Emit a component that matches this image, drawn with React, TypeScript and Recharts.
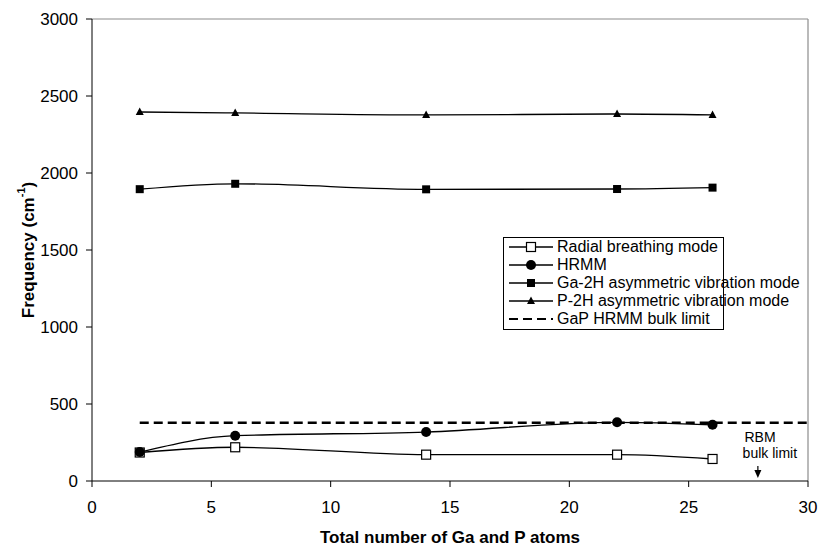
import React from "react";
import {
  LineChart,
  Line,
  XAxis,
  YAxis,
  Legend,
  ReferenceLine,
  ReferenceDot,
} from "recharts";

// atoms count on x, frequencies in cm-1
const atomCounts = [2, 6, 14, 22, 26];
const radialBreathing = [185, 219, 171, 171, 143];
const hrmm = [188, 294, 318, 381, 365];
const ga2h = [1895, 1930, 1894, 1896, 1905];
const p2h = [2396, 2390, 2377, 2383, 2377];

const bulkLimitX = [2, 30];
const bulkLimitValue = 378;

const xTicks = [0, 5, 10, 15, 20, 25, 30];
const yTicks = [0, 500, 1000, 1500, 2000, 2500, 3000];

const seriesNames = [
  "Radial breathing mode",
  "HRMM",
  "Ga-2H asymmetric vibration mode",
  "P-2H asymmetric vibration mode",
  "GaP HRMM bulk limit",
];

const rows = atomCounts.map((x, i) => ({
  x,
  rbm: radialBreathing[i],
  hrmm: hrmm[i],
  ga: ga2h[i],
  p: p2h[i],
}));

const bulkRows = bulkLimitX.map((x) => ({ x, bulk: bulkLimitValue }));

const FONT = '"Liberation Sans", Arial, sans-serif';

type Marker = "openSquare" | "circle" | "square" | "triangle" | "none";
const markers: Marker[] = ["openSquare", "circle", "square", "triangle", "none"];

function drawMarker(kind: Marker, cx: number, cy: number, key?: any) {
  if (kind === "openSquare")
    return <rect key={key} x={cx - 4.5} y={cy - 4.5} width={9} height={9} fill="#fff" stroke="#000" strokeWidth={1.2} />;
  if (kind === "circle") return <circle key={key} cx={cx} cy={cy} r={5} fill="#000" />;
  if (kind === "square") return <rect key={key} x={cx - 4} y={cy - 4} width={8} height={8} fill="#000" />;
  if (kind === "triangle")
    return <path key={key} d={`M${cx},${cy - 4.5} L${cx + 4},${cy + 3} L${cx - 4},${cy + 3} Z`} fill="#000" />;
  return <g key={key} />;
}

const dotFor = (kind: Marker) => (props: any) => drawMarker(kind, props.cx, props.cy, props.key ?? `${kind}-${props.index}`);

function LegendBox() {
  return (
    <div
      style={{
        border: "1px solid #000",
        background: "#fff",
        width: 214,
        padding: "0 0 1px 5px",
        fontFamily: FONT,
        fontSize: 16,
        color: "#000",
      }}
    >
      {seriesNames.map((name, i) => (
        <div key={name} style={{ display: "flex", alignItems: "center", height: 18, whiteSpace: "nowrap" }}>
          <svg width={46} height={18} style={{ flex: "none" }}>
            {markers[i] === "none" ? (
              <line x1={0} y1={9} x2={44} y2={9} stroke="#000" strokeWidth={2.2} strokeDasharray="9 5" />
            ) : (
              <line x1={0} y1={9} x2={44} y2={9} stroke="#000" strokeWidth={1.3} />
            )}
            {drawMarker(markers[i], 22, 9)}
          </svg>
          <span style={{ marginLeft: 2 }}>{name}</span>
        </div>
      ))}
    </div>
  );
}

const YTitle = (props: any) => {
  const vb = props.viewBox;
  const cx = vb.x + 10;
  const cy = vb.y + vb.height / 2;
  return (
    <text
      x={cx}
      y={cy}
      transform={`rotate(-90, ${cx}, ${cy})`}
      textAnchor="middle"
      dominantBaseline="central"
      fontFamily={FONT}
      fontSize={17}
      fontWeight="bold"
      fill="#000"
    >
      Frequency (cm
      <tspan dy={-7} fontSize={11}>
        -1
      </tspan>
      <tspan dy={7}>)</tspan>
    </text>
  );
};

const XTitle = (props: any) => {
  const vb = props.viewBox;
  return (
    <text
      x={vb.x + vb.width / 2}
      y={vb.y + 62}
      textAnchor="middle"
      fontFamily={FONT}
      fontSize={17}
      fontWeight="bold"
      fill="#000"
    >
      Total number of Ga and P atoms
    </text>
  );
};

const note = (text: string) => (p: any) => (
  <text x={p.cx} y={p.cy} fontFamily={FONT} fontSize={14} fill="#000">
    {text}
  </text>
);

const arrowHead = (p: any) => (
  <path d={`M${p.cx},${p.cy} L${p.cx - 3.5},${p.cy - 8} L${p.cx + 3.5},${p.cy - 8} Z`} fill="#000" />
);

export default function App() {
  return (
    <div style={{ position: "absolute", left: 0, top: 0, width: 821, height: 548 }}>
      <LineChart
        width={821}
        height={548}
        data={rows}
        margin={{ top: 19, right: 13, left: 18, bottom: 7 }}
        style={{ fontFamily: FONT }}
      >
        <XAxis
          type="number"
          dataKey="x"
          domain={[0, 30]}
          ticks={xTicks}
          interval={0}
          tickSize={6}
          tickMargin={14}
          height={60}
          stroke="#000"
          tick={{ fill: "#000", fontSize: 17, fontFamily: FONT }}
          label={{ content: XTitle }}
          allowDataOverflow
        />
        <YAxis
          type="number"
          domain={[0, 3000]}
          ticks={yTicks}
          interval={0}
          tickSize={6}
          tickMargin={8}
          width={74}
          stroke="#000"
          tick={{ fill: "#000", fontSize: 17, fontFamily: FONT }}
          label={{ content: YTitle }}
        />
        <ReferenceLine y={3000} stroke="#8c8c8c" strokeWidth={1.2} />
        <ReferenceLine x={30} stroke="#8c8c8c" strokeWidth={1.2} />

        <Line
          data={bulkRows}
          dataKey="bulk"
          name={seriesNames[4]}
          stroke="#000"
          strokeWidth={2.4}
          strokeDasharray="9 5"
          dot={false}
          activeDot={false}
          isAnimationActive={false}
        />
        <Line type="monotone" dataKey="rbm" name={seriesNames[0]} stroke="#000" strokeWidth={1.3} dot={dotFor("openSquare")} isAnimationActive={false} />
        <Line type="monotone" dataKey="hrmm" name={seriesNames[1]} stroke="#000" strokeWidth={1.3} dot={dotFor("circle")} isAnimationActive={false} />
        <Line type="monotone" dataKey="ga" name={seriesNames[2]} stroke="#000" strokeWidth={1.3} dot={dotFor("square")} isAnimationActive={false} />
        <Line type="monotone" dataKey="p" name={seriesNames[3]} stroke="#000" strokeWidth={1.3} dot={dotFor("triangle")} isAnimationActive={false} />

        {/* RBM bulk limit note with arrow */}
        <ReferenceDot x={27.34} y={253} r={0} shape={note("RBM")} />
        <ReferenceDot x={27.26} y={149} r={0} shape={note("bulk limit")} />
        <ReferenceLine segment={[{ x: 27.9, y: 97 }, { x: 27.9, y: 40 }]} stroke="#000" strokeWidth={1.2} />
        <ReferenceDot x={27.9} y={19} r={0} shape={arrowHead} />

        <Legend
          layout="vertical"
          align="center"
          verticalAlign="middle"
          content={() => <LegendBox />}
          wrapperStyle={{ position: "absolute", left: 503, top: 237, width: "auto", height: "auto" }}
        />
      </LineChart>
    </div>
  );
}
